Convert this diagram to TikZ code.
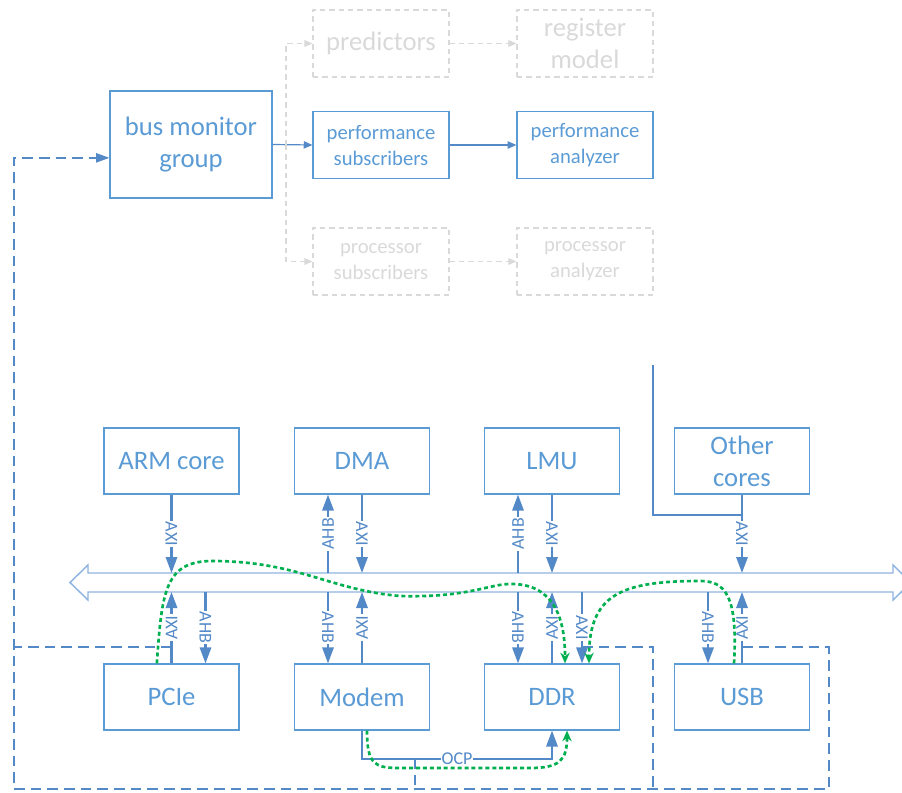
\documentclass[tikz,border=0pt]{standalone}
\usepackage{fontspec}
\setmainfont{Carlito}
\usetikzlibrary{arrows.meta}
\definecolor{boxblue}{RGB}{91,155,213}
\definecolor{linkblue}{RGB}{84,137,200}
\definecolor{busblue}{RGB}{143,180,224}
\definecolor{ghost}{RGB}{217,217,217}
\definecolor{trace}{RGB}{0,176,80}
\tikzset{
    BX1/.style ={rectangle, minimum width = 101.25pt, minimum height = 49.5pt, draw=boxblue, line width=0.9pt, text=boxblue, align=center, font=\fontsize{20}{24}\selectfont},
    BX2/.style ={BX1, minimum width = 102pt, minimum height = 50.25pt, font=\fontsize{15.5}{19.5}\selectfont},
    BX3/.style ={BX1, minimum width = 102pt, minimum height = 50.25pt, draw=ghost, text=ghost, dash pattern=on 4pt off 3pt},
    BX4/.style ={BX3, font=\fontsize{15.5}{19.5}\selectfont},
    BUS/.style ={draw=busblue, line width=1.1pt, fill=white},
    LK/.style ={draw=linkblue, line width=1.6pt, -{Triangle[length=12pt,width=8.5pt]}},
    TG/.style ={midway, sloped, fill=white, inner sep=0.8pt, text=linkblue, font=\fontsize{13.5}{13.5}\selectfont},
    FL/.style ={draw=linkblue, line width=0.9pt, -{Triangle[length=6.5pt,width=5.5pt]}},
    GF/.style ={draw=ghost, line width=0.9pt, dash pattern=on 4pt off 3pt, -{Triangle[length=6pt,width=5pt]}},
    MON/.style ={draw=linkblue, line width=1pt, dash pattern=on 8pt off 4.5pt},
    TR/.style ={draw=trace, line width=2pt, dash pattern=on 3pt off 2.2pt, -{Stealth[length=8pt,width=7pt]}}}

\begin{document}
\begin{tikzpicture}[x=0.75pt, y=-0.75pt]
        \useasboundingbox (0,0) rectangle (902,792);
        % monitor side
        \node[BX1, minimum width = 121.5pt, minimum height = 80.25pt] (bmg) at (191,144.5){bus monitor\\group};
        \node[BX3] (pred) at (381,43.5){predictors};
        \node[BX3] (regm) at (585,43.5){register\\model};
        \node[BX2] (psub) at (381,145){performance\\subscribers};
        \node[BX2] (pana) at (585,145){performance\\analyzer};
        \node[BX4] (prsub) at (381,261.5){processor\\subscribers};
        \node[BX4] (prana) at (585,261.5){processor\\analyzer};
        \coordinate (split) at (286,145);
        \draw[FL] (bmg.east) -- (psub.west);
        \draw[FL] (psub) -- (pana);
        \draw[GF] (split) |- (pred.west);
        \draw[GF] (split) |- (prsub.west);
        \draw[GF] (pred) -- (regm);
        \draw[GF] (prsub) -- (prana);
        % bus
        \draw[BUS] (70,582.5) -- (88,565) -- (88,573) -- (893,573) -- (893,565) -- (911,582.5)
            -- (893,600) -- (893,592) -- (88,592) -- (88,600) -- cycle;
        \coordinate (bt) at (0,573);
        \coordinate (bb) at (0,592);
        % masters and slaves
        \node[BX1] (arm) at (171.5,461){ARM core};
        \node[BX1] (dma) at (362,461){DMA};
        \node[BX1] (lmu) at (552,461){LMU};
        \node[BX1] (oth) at (742,461){Other\\cores};
        \node[BX1] (pcie) at (171.5,697){PCIe};
        \node[BX1] (modem) at (362,697){Modem};
        \node[BX1] (ddr) at (552,697){DDR};
        \node[BX1] (usb) at (742,697){USB};
        \coordinate (feed) at (653,365);
        \coordinate (ojoin) at (742,515);
        \draw[draw=linkblue, line width=1pt] (feed) |- (ojoin);
        \draw[LK] (arm.south) -- (arm.south |- bt) node[TG]{AXI};
        \draw[LK] ([xshift=-25.5pt]dma.south |- bt) -- ([xshift=-25.5pt]dma.south) node[TG]{AHB};
        \draw[LK] (dma.south) -- (dma.south |- bt) node[TG]{AXI};
        \draw[LK] ([xshift=-25.5pt]lmu.south |- bt) -- ([xshift=-25.5pt]lmu.south) node[TG]{AHB};
        \draw[LK] (lmu.south) -- (lmu.south |- bt) node[TG]{AXI};
        \draw[LK] (oth.south) -- (oth.south |- bt) node[TG]{AXI};
        \draw[LK] (pcie.north) -- (pcie.north |- bb) node[TG]{AXI};
        \draw[LK] ([xshift=25.5pt]pcie.north |- bb) -- ([xshift=25.5pt]pcie.north) node[TG]{AHB};
        \draw[LK] ([xshift=-25.5pt]modem.north |- bb) -- ([xshift=-25.5pt]modem.north) node[TG]{AHB};
        \draw[LK] (modem.north) -- (modem.north |- bb) node[TG]{AXI};
        \draw[LK] ([xshift=-25.5pt]ddr.north |- bb) -- ([xshift=-25.5pt]ddr.north) node[TG]{AHB};
        \draw[LK] (ddr.north) -- (ddr.north |- bb) node[TG]{AXI};
        \draw[LK] ([xshift=22.5pt]ddr.north |- bb) -- ([xshift=22.5pt]ddr.north) node[TG]{AXI};
        \draw[LK] ([xshift=-25.5pt]usb.north |- bb) -- ([xshift=-25.5pt]usb.north) node[TG]{AHB};
        \draw[LK] (usb.north) -- (usb.north |- bb) node[TG]{AXI};
        \draw[LK] (modem.south) -- ++(0,28) -| node[pos=0.25, fill=white, inner sep=0.8pt, text=linkblue, font=\fontsize{13.5}{13.5}\selectfont]{OCP} (ddr.south);
        % monitor taps
        \coordinate (tapP) at (172,647);
        \coordinate (tapD) at (582,647);
        \coordinate (tapU) at (742,647);
        \coordinate (tapO) at (415,758);
        \coordinate (loopL) at (14,789);
        \coordinate (loopM) at (653,789);
        \coordinate (loopR) at (829,789);
        \draw[MON, -{Triangle[length=10pt,width=7pt]}] (tapU) -| (loopR) -- (loopL) |- ([yshift=-10pt]bmg.west);
        \draw[MON] (tapD) -| (loopM);
        \draw[MON] (tapP) -- (tapP -| loopL);
        \draw[MON] (tapO) -- (tapO |- loopL);
        % traced transfers
        \draw[TR] ([xshift=-11pt]pcie.north) .. controls (162,590) and (165,560) .. (215,561)
            .. controls (300,562) and (330,590) .. (400,596)
            .. controls (470,598) and (490,583) .. (513,584)
            .. controls (555,585) and (565,620) .. ([xshift=9.75pt]ddr.north);
        \draw[TR] ([xshift=-6pt]usb.north) .. controls (738,595) and (725,581) .. (700,581)
            .. controls (620,581) and (589,595) .. ([xshift=27.75pt]ddr.north);
        \draw[TR] ([xshift=3.75pt]modem.south) .. controls (367,765) and (375,768) .. (400,768)
            -- (530,768) .. controls (560,768) and (567,760) .. ([xshift=11.25pt]ddr.south);
    \end{tikzpicture}
\end{document}
